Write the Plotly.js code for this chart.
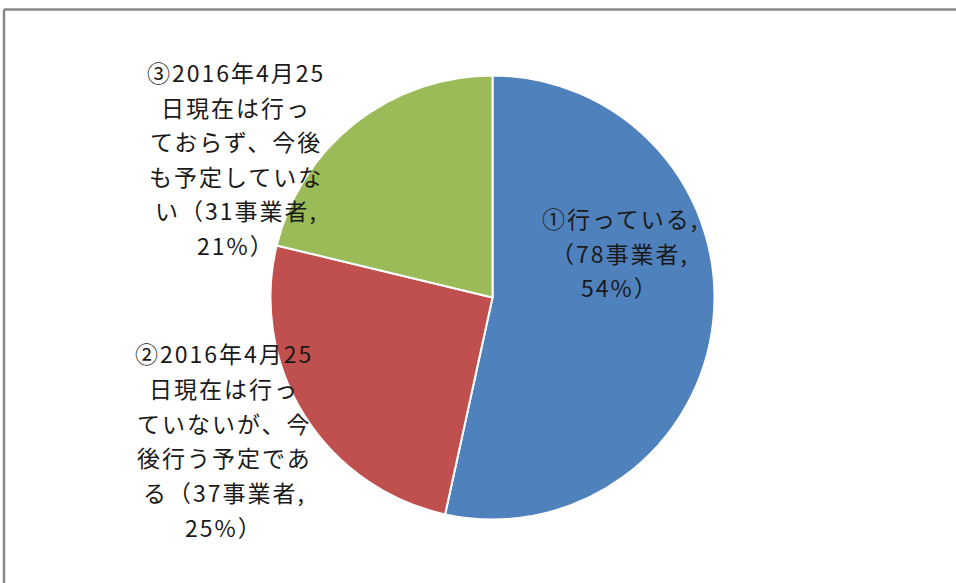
<!DOCTYPE html>
<html>
<head>
<meta charset="utf-8">
<script src="https://cdn.plot.ly/plotly-3.0.1.min.js"></script>
<style>
html,body{margin:0;padding:0;background:#fff;}
#chart{width:956px;height:583px;}
#chart .annotation-text{letter-spacing:2px;}
</style>
</head>
<body>
<div id="chart"></div>
<script>
// Data
const categories = ["①行っている", "②2016年4月25日現在は行っていないが、今後行う予定である", "③2016年4月25日現在は行っておらず、今後も予定していない"];
const values = [78, 37, 31];
const percents = ["54%", "25%", "21%"];
const colors = ["#4F81BD", "#C0504D", "#9BBB59"];
// Label text, as wrapped in the reference
const labelLines1 = ["①行っている,", "（78事業者,", "54%）"];
const labelLines2 = ["②2016年4月25", "日現在は行っ", "ていないが、今", "後行う予定であ", "る（37事業者,", "25%）"];
const labelLines3 = ["③2016年4月25", "日現在は行っ", "ておらず、今後", "も予定していな", "い（31事業者,", "21%）"];

const W = 956, H = 583;
const cx = 492.5, cy = 297.5, R = 222;

const trace = {
  type: "pie",
  labels: categories,
  values: values,
  sort: false,
  direction: "clockwise",
  rotation: 0,
  textinfo: "none",
  hoverinfo: "label+value+percent",
  marker: {colors: colors, line: {color: "#ffffff", width: 2}},
  domain: {x: [(cx - R) / W, (cx + R) / W], y: [(H - cy - R) / H, (H - cy + R) / H]},
  showlegend: false
};

function linesToAnn(lines, xc, y0, dy) {
  return lines.map((t, i) => ({
    xref: "paper", yref: "paper",
    x: (xc + 1) / W, y: 1 - (y0 + i * dy) / H,
    xanchor: "center", yanchor: "middle",
    text: t, showarrow: false,
    font: {family: "Noto Sans CJK JP, sans-serif", size: 23, color: "#1a1a1a"}
  }));
}

const annotations = []
  .concat(linesToAnn(labelLines1, 619, 218, 34.7))
  .concat(linesToAnn(labelLines2, 223, 353, 34.8))
  .concat(linesToAnn(labelLines3, 235, 72, 34.6));

const layout = {
  width: W, height: H,
  margin: {l: 0, r: 0, t: 0, b: 0},
  paper_bgcolor: "#ffffff",
  plot_bgcolor: "#ffffff",
  annotations: annotations,
  shapes: [
    {type: "line", xref: "paper", yref: "paper", x0: 4 / W, x1: 1.01, y0: 1 - 9.5 / H, y1: 1 - 9.5 / H, line: {color: "#888888", width: 2.5}},
    {type: "line", xref: "paper", yref: "paper", x0: 4 / W, x1: 4 / W, y0: 1 - 9.5 / H, y1: -0.01, line: {color: "#888888", width: 2.5}}
  ]
};

Plotly.newPlot("chart", [trace], layout, {displayModeBar: false, staticPlot: true});
</script>
</body>
</html>
